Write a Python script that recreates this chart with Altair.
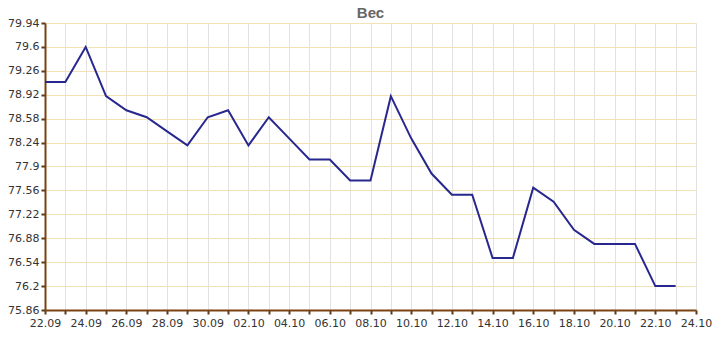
import altair as alt
import pandas as pd

dates = ["2013-09-22", "2013-09-23", "2013-09-24", "2013-09-25", "2013-09-26", "2013-09-27",
         "2013-09-28", "2013-09-29", "2013-09-30", "2013-10-01", "2013-10-02", "2013-10-03",
         "2013-10-04", "2013-10-05", "2013-10-06", "2013-10-07", "2013-10-08", "2013-10-09",
         "2013-10-10", "2013-10-11", "2013-10-12", "2013-10-13", "2013-10-14", "2013-10-15",
         "2013-10-16", "2013-10-17", "2013-10-18", "2013-10-19", "2013-10-20", "2013-10-21",
         "2013-10-22", "2013-10-23"]
weights = [79.1, 79.1, 79.6, 78.9, 78.7, 78.6, 78.4, 78.2, 78.6, 78.7, 78.2, 78.6,
           78.3, 78.0, 78.0, 77.7, 77.7, 78.9, 78.3, 77.8, 77.5, 77.5, 76.6, 76.6,
           77.6, 77.4, 77.0, 76.8, 76.8, 76.8, 76.2, 76.2]
y_ticks = [75.86, 76.2, 76.54, 76.88, 77.22, 77.56, 77.9, 78.24, 78.58, 78.92, 79.26, 79.6, 79.94]
x_start, x_end = "2013-09-22", "2013-10-24"

df = pd.DataFrame({"date": dates, "weight": weights})

def ms(d):
    return int(pd.Timestamp(d, tz="UTC").timestamp() * 1000)

x_vals = [ms(d) for d in pd.date_range(x_start, x_end, freq="D").strftime("%Y-%m-%d")]

brown = "#7a4212"

base = alt.Chart(df)

line = base.mark_line(color="#27278f", strokeWidth=2).encode(
    x=alt.X("date:T",
            scale=alt.Scale(type="utc", domain=[ms(x_start), ms(x_end)], nice=False),
            axis=alt.Axis(values=x_vals, title=None,
                          labelExpr="utcdate(datum.value) % 2 == 0 ? utcFormat(datum.value, '%d.%m') : ''",
                          labelOverlap=False, labelFlush=False, labelBound=False,
                          labelFont="DejaVu Sans", labelFontSize=11,
                          labelColor="#333333", labelPadding=3,
                          domainColor=brown, domainWidth=2,
                          tickColor="#5a3a1a", tickWidth=2, tickSize=4,
                          gridColor="#e2e2e2", gridWidth=1)),
    y=alt.Y("weight:Q",
            scale=alt.Scale(domain=[y_ticks[0], y_ticks[-1]], nice=False, zero=False),
            axis=alt.Axis(values=y_ticks, title=None,
                          labelExpr="'' + datum.value",
                          labelOverlap=False, labelFlush=False, labelBound=False,
                          labelFont="DejaVu Sans", labelFontSize=11, labelColor="#333333",
                          labelPadding=2,
                          domainColor=brown, domainWidth=2,
                          tickColor="#5a3a1a", tickWidth=2, tickSize=4,
                          gridColor="#f3e2b5", gridWidth=1)),
)

chart = line.properties(
    width=651, height=287,
    title=alt.TitleParams("Вес", font="Liberation Sans", fontSize=15, fontWeight="bold",
                          color="#666666", anchor="middle", offset=5, dy=9),
    autosize=alt.AutoSizeParams(type="none"),
    padding={"left": 45, "top": 23, "right": 30, "bottom": 27},
    background="white",
).configure_view(stroke=None)

chart.save("out.html", embed_options={"renderer": "svg", "actions": False})
